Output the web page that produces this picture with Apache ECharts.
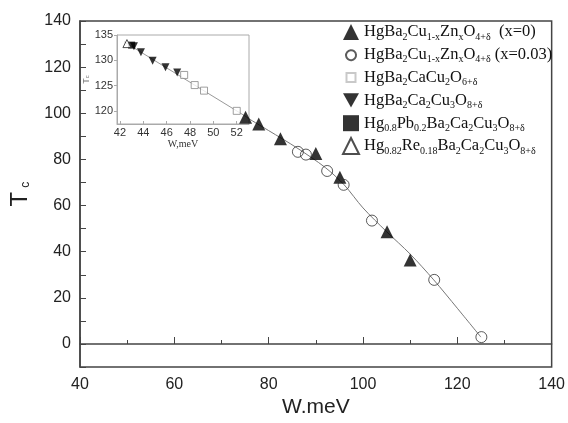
<!DOCTYPE html>
<html>
<head>
<meta charset="utf-8">
<script src="https://cdn.jsdelivr.net/npm/echarts@6/dist/echarts.min.js"></script>
<style>
  html, body { margin: 0; padding: 0; background: #fff; }
  #chart-container { width: 568px; height: 423px; }
</style>
</head>
<body>
<div id="chart-container"></div>
<script>
// main panel: Tc vs W
var zn0W = [75.1, 77.9, 82.5, 90.0, 95.1, 105.1, 110.0];
var zn0Tc = [98.3, 95.4, 89.0, 82.6, 72.3, 48.7, 36.4];
var zn3W = [86.2, 87.9, 92.4, 95.9, 101.9, 115.1, 125.1];
var zn3Tc = [83.3, 82.1, 75.0, 69.0, 53.5, 27.8, 3.0];
var fitW = [75.5, 80, 86, 92, 96, 100, 105, 110, 115, 120, 125];
var fitTc = [98, 92.5, 85, 76.5, 69, 59, 48.7, 39, 27.8, 15.5, 3];

// inset panel
var hg1212W = [47.5, 48.4, 49.2, 52.0];
var hg1212Tc = [127.1, 125.1, 124.0, 120.0];
var hg1223W = [43.2, 43.8, 44.8, 45.9, 46.9];
var hg1223Tc = [132.8, 131.6, 129.9, 128.6, 127.6];
var pbW = [43.0];
var pbTc = [133.0];
var reW = [42.6];
var reTc = [133.3];
var insetFitW = [42.4, 53.05];
var insetFitTc = [133.6, 118.5];

var insetXTicks = [42, 44, 46, 48, 50, 52];
var insetYTicks = [120, 125, 130, 135];

var legendNames = {
  zn0: 'HgBa{s|2}Cu{s|1-x}Zn{s|x}O{s|4+δ}  (x=0)',
  zn3: 'HgBa{s|2}Cu{s|1-x}Zn{s|x}O{s|4+δ} (x=0.03)',
  hg1212: 'HgBa{s|2}CaCu{s|2}O{s|6+δ}',
  hg1223: 'HgBa{s|2}Ca{s|2}Cu{s|3}O{s|8+δ}',
  pb: 'Hg{s|0.8}Pb{s|0.2}Ba{s|2}Ca{s|2}Cu{s|3}O{s|8+δ}',
  re: 'Hg{s|0.82}Re{s|0.18}Ba{s|2}Ca{s|2}Cu{s|3}O{s|8+δ}'
};

function zip(xs, ys) {
  return xs.map(function (x, i) { return [x, ys[i]]; });
}

var downTri = 'path://M0,0L10,0L5,9Z';
// smaller legend icons padded inside a 16x16 box
var smallCircle = 'path://M0,0M16,16M13,8A5,5 0 1 1 12.99,7.9Z';
var smallSquare = 'path://M0,0M16,16M3.5,3.5L12.5,3.5L12.5,12.5L3.5,12.5Z';

var dom = document.getElementById('chart-container');
var myChart = echarts.init(dom, null, { renderer: 'canvas' });

var option = {
  animation: false,
  backgroundColor: '#fff',
  grid: [
    { left: 80, right: 13, top: 21, bottom: 52, show: true, borderColor: '#444', borderWidth: 1.5 },
    { left: 117, top: 35, width: 132, height: 89, show: true, backgroundColor: '#fff', borderColor: '#aaa', borderWidth: 1 }
  ],
  xAxis: [
    {
      gridIndex: 0, type: 'value', min: 40, max: 140, interval: 20,
      name: 'W.meV', nameLocation: 'middle', nameGap: 25,
      nameTextStyle: { fontFamily: 'Liberation Sans', fontSize: 21, color: '#222' },
      axisLine: { lineStyle: { color: '#444', width: 1.5 } },
      axisTick: { inside: true, length: 7, lineStyle: { color: '#444' } },
      minorTick: { show: true, splitNumber: 2, length: 4, lineStyle: { color: '#444' } },
      axisLabel: { fontFamily: 'Liberation Sans', fontSize: 16, color: '#222', margin: 9 },
      splitLine: { show: false }
    },
    {
      gridIndex: 1, type: 'value', min: 41.75, max: 53.05,
      name: 'W,meV', nameLocation: 'middle', nameGap: 14,
      nameTextStyle: { fontFamily: 'Liberation Serif', fontSize: 10, color: '#333' },
      axisLine: { lineStyle: { color: '#aaa', width: 1 } },
      axisTick: { inside: true, length: 3, customValues: insetXTicks, lineStyle: { color: '#aaa' } },
      axisLabel: { customValues: insetXTicks, fontFamily: 'Liberation Sans', fontSize: 11, color: '#333', margin: 3 },
      splitLine: { show: false }
    }
  ],
  yAxis: [
    {
      gridIndex: 0, type: 'value', min: -10, max: 140, interval: 10,
      name: 'T{s|c}', nameLocation: 'middle', nameGap: 48, nameRotate: 90,
      nameTextStyle: {
        fontFamily: 'Liberation Sans', fontSize: 24, color: '#222',
        rich: { s: { fontFamily: 'Liberation Sans', fontSize: 12, color: '#222', verticalAlign: 'bottom', lineHeight: 12, padding: [0, 0, 0, 4] } }
      },
      axisLine: { lineStyle: { color: '#444', width: 1.5 } },
      axisTick: { inside: true, length: 6, lineStyle: { color: '#444' } },
      axisLabel: {
        fontFamily: 'Liberation Sans', fontSize: 16, color: '#222', margin: 9,
        formatter: function (v) { return (v >= 0 && v % 20 === 0) ? String(v) : ''; }
      },
      splitLine: { show: false }
    },
    {
      gridIndex: 1, type: 'value', min: 117.4, max: 135,
      name: 'T{s|c}', nameLocation: 'middle', nameGap: 26, nameRotate: 90,
      nameTextStyle: {
        fontFamily: 'Liberation Sans', fontSize: 9, color: '#777',
        rich: { s: { fontFamily: 'Liberation Sans', fontSize: 6, color: '#777', verticalAlign: 'bottom', lineHeight: 6 } }
      },
      axisLine: { lineStyle: { color: '#aaa', width: 1 } },
      axisTick: { inside: false, length: 3, customValues: insetYTicks, lineStyle: { color: '#aaa' } },
      axisLabel: { customValues: insetYTicks, fontFamily: 'Liberation Sans', fontSize: 11, color: '#333', margin: 4 },
      splitLine: { show: false }
    }
  ],
  legend: {
    orient: 'vertical', left: 337, top: 17, itemGap: 2.8,
    itemWidth: 16, itemHeight: 16,
    data: [
      { name: 'zn0' },
      { name: 'zn3', icon: smallCircle },
      { name: 'hg1212', icon: smallSquare, itemStyle: { borderColor: '#bbb' } },
      { name: 'hg1223' },
      { name: 'pb' },
      { name: 're' }
    ],
    formatter: function (name) { return legendNames[name]; },
    textStyle: {
      fontFamily: 'Liberation Serif', fontSize: 16.5, color: '#111', lineHeight: 20,
      rich: { s: { fontFamily: 'Liberation Serif', fontSize: 10, color: '#111', verticalAlign: 'bottom', lineHeight: 10 } }
    }
  },
  series: [
    {
      name: 'fit', type: 'line', xAxisIndex: 0, yAxisIndex: 0,
      data: zip(fitW, fitTc), smooth: 0.3, showSymbol: false,
      lineStyle: { color: '#777', width: 1 }, z: 1
    },
    {
      name: 'zn0', type: 'scatter', xAxisIndex: 0, yAxisIndex: 0,
      data: zip(zn0W, zn0Tc), symbol: 'triangle', symbolSize: 13,
      itemStyle: { color: '#000' }
    },
    {
      name: 'zn3', type: 'scatter', xAxisIndex: 0, yAxisIndex: 0,
      data: zip(zn3W, zn3Tc), symbol: 'circle', symbolSize: 11,
      itemStyle: { color: 'rgba(255,255,255,0)', borderColor: '#333', borderWidth: 1 }
    },
    {
      name: 'insetFit', type: 'line', xAxisIndex: 1, yAxisIndex: 1,
      data: zip(insetFitW, insetFitTc), showSymbol: false,
      lineStyle: { color: '#999', width: 1 }, z: 1
    },
    {
      name: 'hg1212', type: 'scatter', xAxisIndex: 1, yAxisIndex: 1,
      data: zip(hg1212W, hg1212Tc), symbol: 'rect', symbolSize: 7,
      itemStyle: { color: '#fff', borderColor: '#888', borderWidth: 1 }
    },
    {
      name: 'hg1223', type: 'scatter', xAxisIndex: 1, yAxisIndex: 1,
      data: zip(hg1223W, hg1223Tc), symbol: downTri, symbolSize: 8,
      itemStyle: { color: '#000' }
    },
    {
      name: 'pb', type: 'scatter', xAxisIndex: 1, yAxisIndex: 1,
      data: zip(pbW, pbTc), symbol: 'rect', symbolSize: 7,
      itemStyle: { color: '#000' }
    },
    {
      name: 're', type: 'scatter', xAxisIndex: 1, yAxisIndex: 1,
      data: zip(reW, reTc), symbol: 'triangle', symbolSize: 8,
      itemStyle: { color: '#fff', borderColor: '#222', borderWidth: 1 }
    }
  ]
};

if (option && typeof option === 'object') {
  myChart.setOption(option);
}

window.addEventListener('resize', myChart.resize);
</script>
</body>
</html>
